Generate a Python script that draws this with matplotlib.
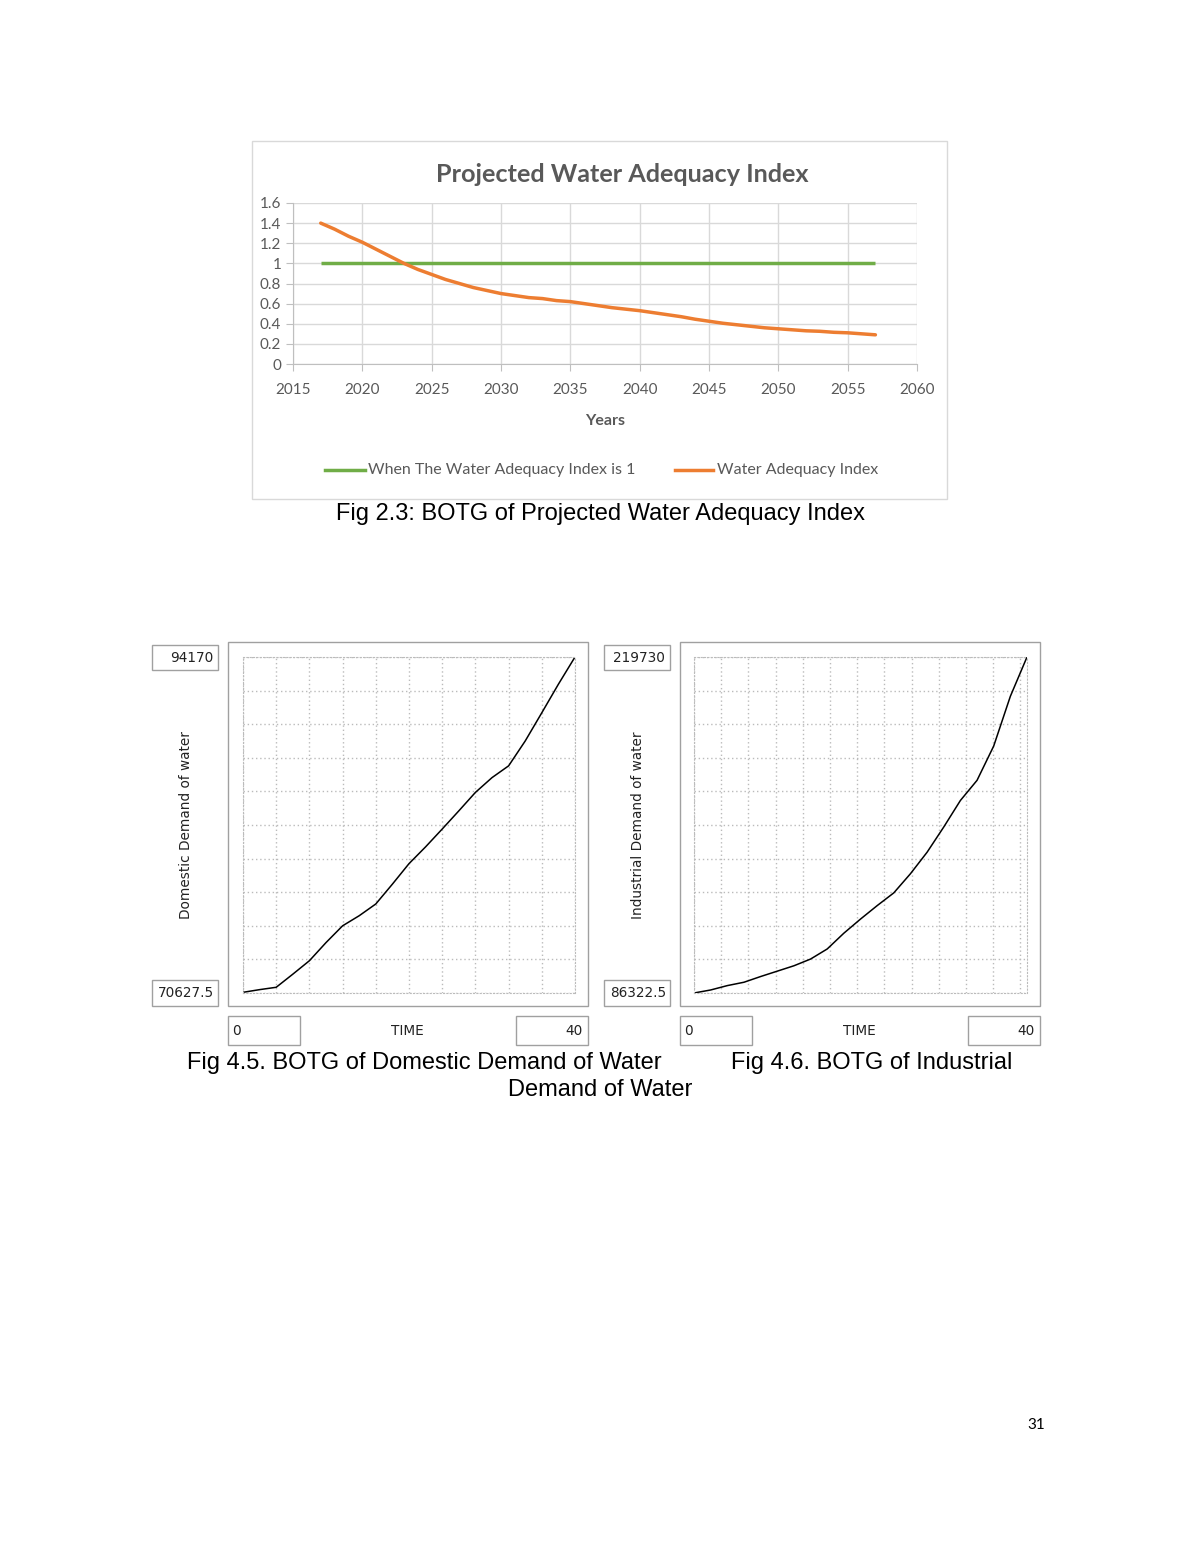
import numpy as np
import matplotlib.pyplot as plt
from matplotlib.patches import Rectangle

W, H = 1200, 1553

# Fig 2.3 data
years = list(range(2017, 2058))
adequacy_index = [1.40, 1.34, 1.27, 1.21, 1.14, 1.07, 1.00, 0.94, 0.89, 0.84,
                  0.80, 0.76, 0.73, 0.70, 0.68, 0.66, 0.65, 0.63, 0.62, 0.60,
                  0.58, 0.56, 0.545, 0.53, 0.51, 0.49, 0.47, 0.445, 0.425, 0.405,
                  0.39, 0.375, 0.36, 0.35, 0.34, 0.33, 0.325, 0.315, 0.31, 0.30,
                  0.29]
threshold = [1.0] * len(years)

# Fig 4.5 / 4.6 data (Vensim runs, time 0..40)
time_steps = list(range(0, 41, 2))
domestic_demand = [70675, 70863, 71028, 71946, 72888, 74159, 75336, 76042, 76866,
                   78255, 79691, 80868, 82116, 83387, 84682, 85718, 86542, 88284,
                   90262, 92263, 94170]
industrial_demand = [86323, 87523, 89257, 90592, 92859, 94994, 97129, 99797, 103799,
                     110069, 115672, 121009, 126078, 133682, 142221, 152226, 162765,
                     170770, 184377, 204121, 219730]
domestic_range = (70627.5, 94170)
industrial_range = (86322.5, 219730)

GREEN = '#70AD47'
ORANGE = '#ED7D31'
GREY_TXT = '#595959'
XL_GRID = '#D9D9D9'
VEN_EDGE = '#A0A0A0'
VEN_GRID = '#BBBBBB'
VEN_TXT = '#222222'


def box(x0, y0, x1, y1):
    # pixel box (top-left origin) -> figure fraction rect
    return [x0 / W, 1 - y1 / H, (x1 - x0) / W, (y1 - y0) / H]


fig = plt.figure(figsize=(W / 100, H / 100), dpi=100)

# overlay in pixel coordinates for frames, boxes and captions
page = fig.add_axes([0, 0, 1, 1])
page.set_xlim(0, W)
page.set_ylim(H, 0)
page.axis('off')


def frame(x0, y0, x1, y1, color, lw=1.0):
    page.add_patch(Rectangle((x0, y0), x1 - x0, y1 - y0, fill=False,
                             edgecolor=color, linewidth=lw))


# ---------------- Fig 2.3 ----------------
frame(252, 141, 947, 499, XL_GRID)
page.text(622, 174, 'Projected Water Adequacy Index', ha='center', va='center',
          fontsize=18.2, fontweight='bold', color=GREY_TXT, family='Lato')

ax1 = fig.add_axes(box(293, 203, 917, 364))
ax1.plot(years, threshold, color=GREEN, lw=2.5, solid_capstyle='butt')
ax1.plot(years, adequacy_index, color=ORANGE, lw=2.5, solid_capstyle='round')
ax1.set_xlim(2015, 2060)
ax1.set_ylim(0, 1.6)
ax1.set_xticks(range(2015, 2061, 5))
ax1.set_yticks(np.arange(0, 1.61, 0.2))
ax1.set_yticklabels(['0', '0.2', '0.4', '0.6', '0.8', '1', '1.2', '1.4', '1.6'])
ax1.grid(True, color=XL_GRID, lw=1)
ax1.set_axisbelow(True)
for s in ['top', 'right']:
    ax1.spines[s].set_visible(False)
for s in ['left', 'bottom']:
    ax1.spines[s].set_color('#BFBFBF')
ax1.tick_params(colors='#BFBFBF', labelcolor=GREY_TXT, length=5, labelsize=11)
ax1.tick_params(axis='x', pad=9)
for lab in ax1.get_xticklabels() + ax1.get_yticklabels():
    lab.set_family('Lato')
ax1.set_xlabel('Years', fontsize=11.5, fontweight='bold', color=GREY_TXT,
               family='Lato', labelpad=12)

# legend
page.plot([325, 365], [470, 470], color=GREEN, lw=2.5)
page.text(368, 470, 'When The Water Adequacy Index is 1', va='center', ha='left',
          fontsize=11.5, color=GREY_TXT, family='Lato')
page.plot([675, 713], [470, 470], color=ORANGE, lw=2.5)
page.text(717, 470, 'Water Adequacy Index', va='center', ha='left',
          fontsize=11.5, color=GREY_TXT, family='Lato')

page.text(600, 514, 'Fig 2.3: BOTG of Projected Water Adequacy Index', ha='center',
          va='center', fontsize=17, family='Liberation Sans', color='black')


# ---------------- Vensim panels ----------------
def vensim_panel(ox, inner, vals, vrange, ylabel, xgrid):
    # ox: left x of the value boxes
    x0, y0, x1, y1 = inner
    frame(ox + 76, 642, ox + 436, 1006, VEN_EDGE)
    frame(ox, 645, ox + 66, 670, VEN_EDGE)
    frame(ox, 980, ox + 66, 1006, VEN_EDGE)
    page.text(ox + 61, 658, f'{vrange[1]:g}', ha='right', va='center',
              fontsize=9.8, color=VEN_TXT)
    page.text(ox + 62, 993, f'{vrange[0]:g}', ha='right', va='center',
              fontsize=9.8, color=VEN_TXT)
    page.text(ox + 34, 825, ylabel, rotation=90, ha='center', va='center',
              fontsize=9.8, color=VEN_TXT)
    frame(ox + 76, 1016, ox + 148, 1045, VEN_EDGE)
    frame(ox + 364, 1016, ox + 436, 1045, VEN_EDGE)
    page.text(ox + 80, 1031, '0', ha='left', va='center', fontsize=9.8, color=VEN_TXT)
    page.text(ox + 431, 1031, '40', ha='right', va='center', fontsize=9.8, color=VEN_TXT)
    page.text(ox + 255, 1031, 'TIME', ha='center', va='center', fontsize=9.8,
              color=VEN_TXT)

    ax = fig.add_axes(box(x0, y0, x1, y1))
    ax.plot(time_steps, vals, color='black', lw=1.1)
    ax.set_xlim(0, 40)
    ax.set_ylim(*vrange)
    ax.set_xticks(xgrid)
    ax.set_yticks(np.linspace(vrange[0], vrange[1], 11))
    ax.tick_params(length=0, labelbottom=False, labelleft=False)
    ax.grid(True, color=VEN_GRID, lw=1, linestyle=(0, (1, 2)))
    ax.set_axisbelow(True)
    for s in ax.spines.values():
        s.set_color(VEN_GRID)
        s.set_linestyle((0, (1, 2)))
    return ax


vensim_panel(152, (243, 657, 575, 993), domestic_demand, domestic_range,
             'Domestic Demand of water', np.linspace(0, 40, 11))
vensim_panel(604, (694, 657, 1027, 993), industrial_demand, industrial_range,
             'Industrial Demand of water', np.arange(0, 40, 3.267))

page.text(424, 1063, 'Fig 4.5. BOTG of Domestic Demand of Water', ha='center',
          va='center', fontsize=17, family='Liberation Sans')
page.text(872, 1063, 'Fig 4.6. BOTG of Industrial', ha='center', va='center',
          fontsize=17, family='Liberation Sans')
page.text(600, 1090, 'Demand of Water', ha='center', va='center', fontsize=17,
          family='Liberation Sans')

page.text(1036, 1425, '31', ha='center', va='center', fontsize=11, family='Lato')

fig.savefig('out.png', dpi=100)
